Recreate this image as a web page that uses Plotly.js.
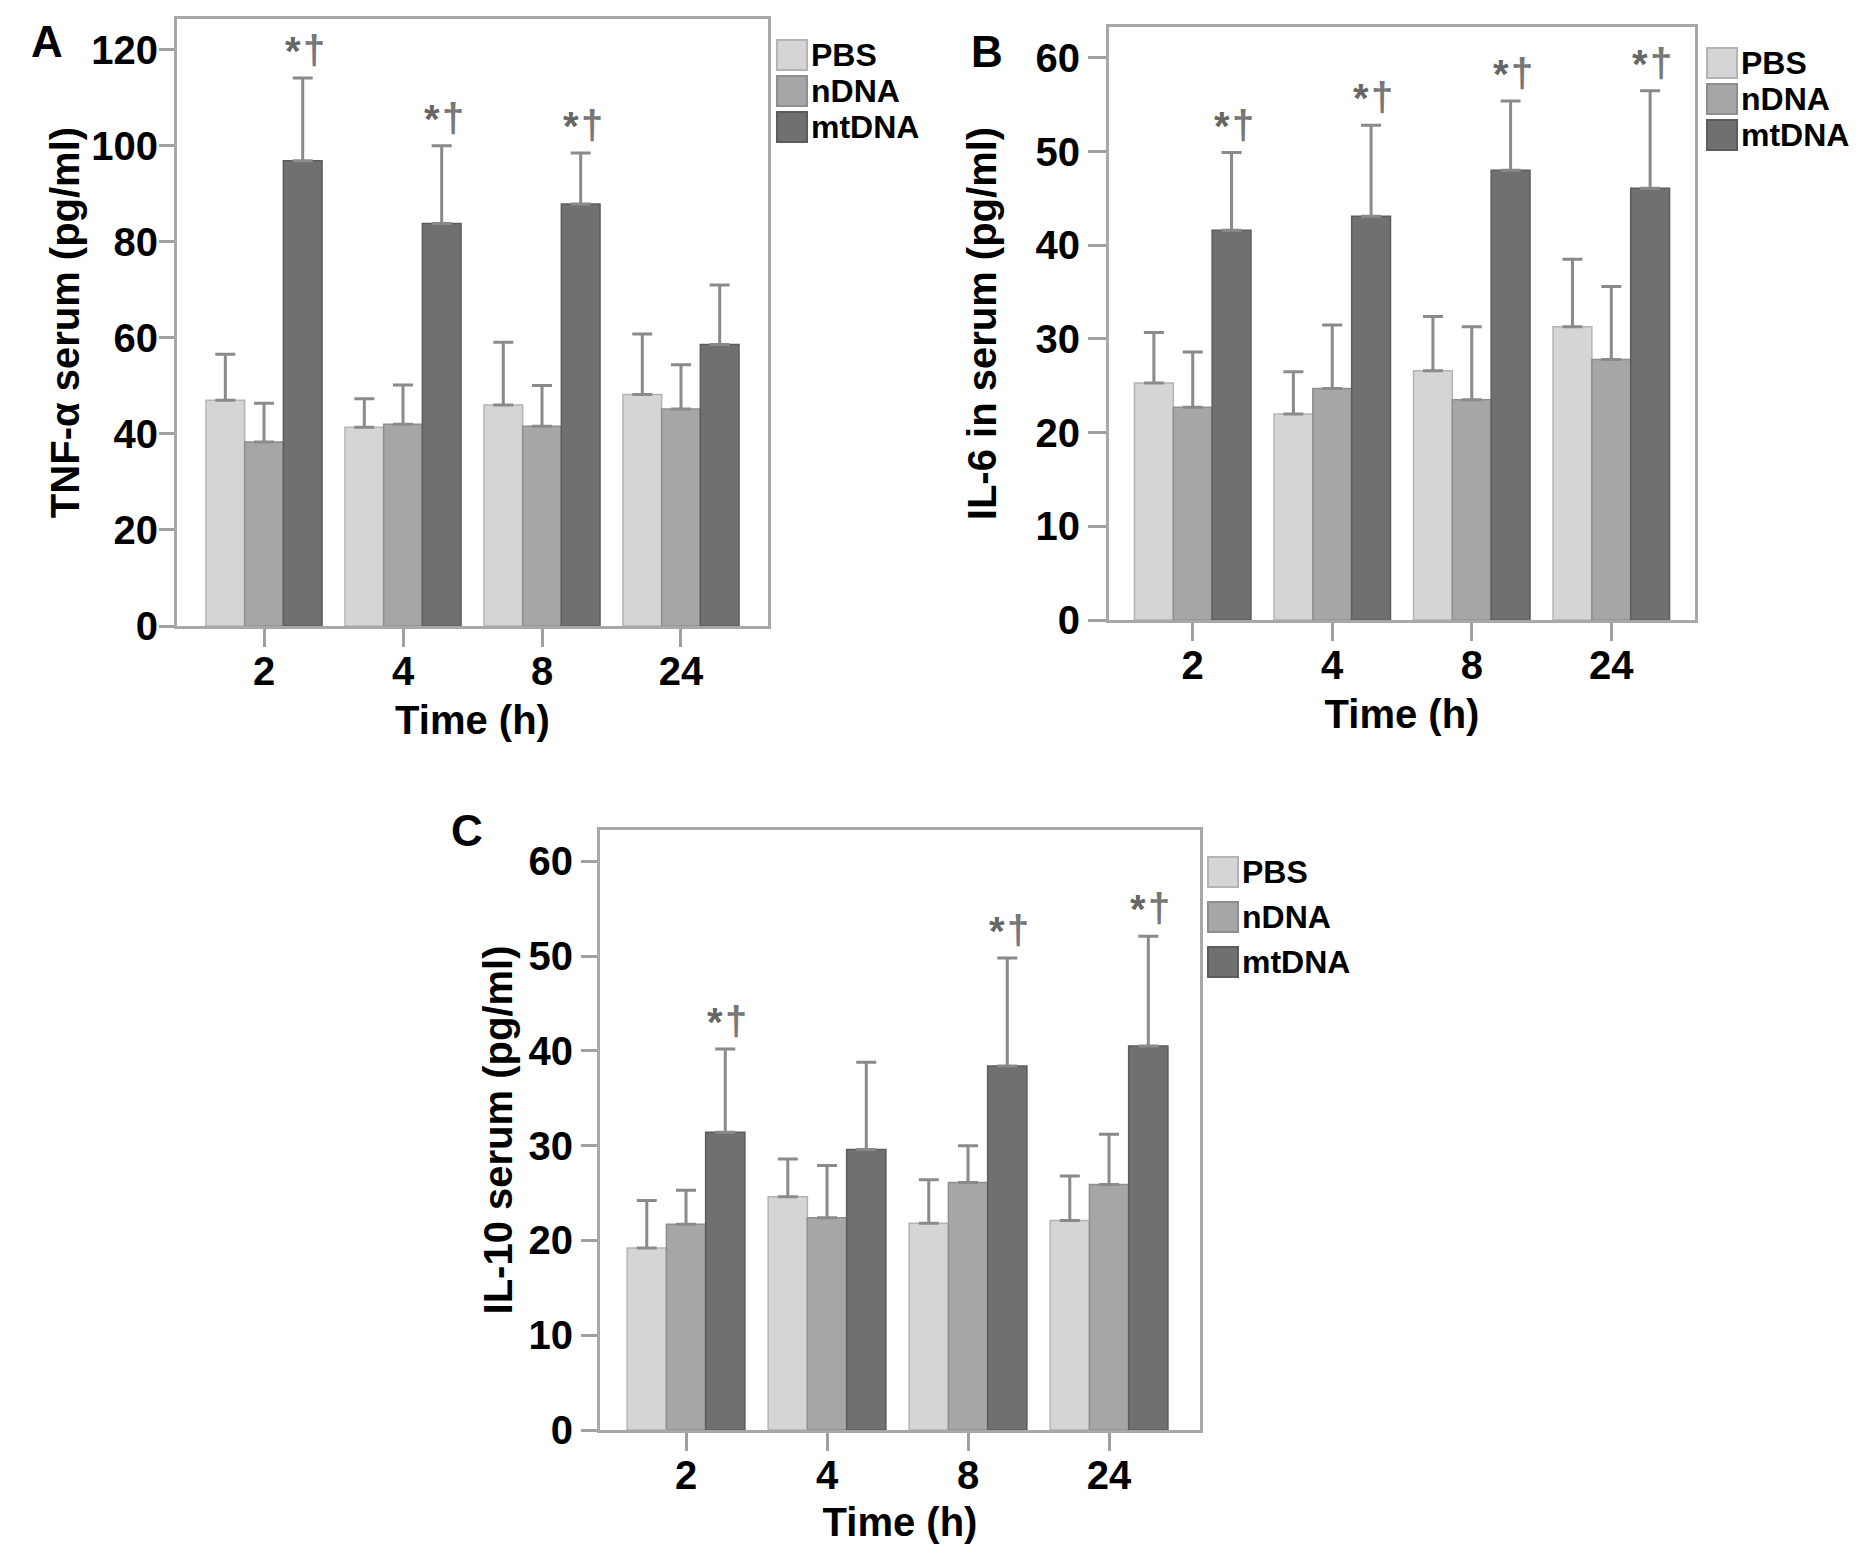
<!DOCTYPE html>
<html>
<head>
<meta charset="utf-8">
<script src="https://cdn.plot.ly/plotly-3.0.1.min.js"></script>
<style>
  html, body { margin: 0; padding: 0; background: #fff; }
  #chart { width: 1864px; height: 1561px; }
</style>
</head>
<body>
<div id="chart"></div>
<script>
// time points (h) and treatment groups
const TIMES = ['2', '4', '8', '24'];
const GROUPS = ['PBS', 'nDNA', 'mtDNA'];
const COLORS = ['#d5d5d5', '#a6a6a6', '#707070'];
const EDGES = ['#b4b4b4', '#8e8e8e', '#5c5c5c'];

// A: TNF-α (pg/ml), mean and SD
const TNF_PBS = [47.0, 41.4, 46.0, 48.2];
const TNF_PBS_SD = [9.6, 5.9, 13.1, 12.6];
const TNF_NDNA = [38.3, 42.0, 41.6, 45.2];
const TNF_NDNA_SD = [8.1, 8.2, 8.5, 9.2];
const TNF_MTDNA = [96.9, 83.8, 87.9, 58.6];
const TNF_MTDNA_SD = [17.2, 16.2, 10.6, 12.4];
const TNF_SIG = [true, true, true, false];

// B: IL-6 (pg/ml)
const IL6_PBS = [25.3, 22.0, 26.6, 31.3];
const IL6_PBS_SD = [5.4, 4.5, 5.8, 7.2];
const IL6_NDNA = [22.7, 24.7, 23.5, 27.8];
const IL6_NDNA_SD = [5.9, 6.8, 7.8, 7.8];
const IL6_MTDNA = [41.6, 43.1, 48.0, 46.1];
const IL6_MTDNA_SD = [8.3, 9.7, 7.4, 10.4];
const IL6_SIG = [true, true, true, true];

// C: IL-10 (pg/ml)
const IL10_PBS = [19.2, 24.6, 21.8, 22.1];
const IL10_PBS_SD = [5.0, 4.0, 4.6, 4.7];
const IL10_NDNA = [21.7, 22.4, 26.1, 25.9];
const IL10_NDNA_SD = [3.6, 5.5, 3.9, 5.3];
const IL10_MTDNA = [31.4, 29.6, 38.4, 40.5];
const IL10_MTDNA_SD = [8.8, 9.2, 11.4, 11.6];
const IL10_SIG = [true, false, true, true];

const W = 1864, H = 1561;
const FONT = 'Liberation Sans, Arial, Helvetica, sans-serif';
const BARGAP = 0.165;
const px = (x) => x / W;
const py = (y) => 1 - y / H;

const panels = [
  {
    key: '', letter: 'A', ytitle: 'TNF-α serum (pg/ml)',
    means: [TNF_PBS, TNF_NDNA, TNF_MTDNA], sds: [TNF_PBS_SD, TNF_NDNA_SD, TNF_MTDNA_SD], sig: TNF_SIG,
    box: [177, 768, 19, 626], yrange: [0, 126.4], dtick: 20, xrange: [-0.626, 3.626],
    yticklen: 15, ylabshift: -7, ystand: 0, xstand: 14,
    letterAt: [47, 41], legend: { x: 777, y: 55, dy: 36 },
  },
  {
    key: '2', letter: 'B', ytitle: 'IL-6 in serum (pg/ml)',
    means: [IL6_PBS, IL6_NDNA, IL6_MTDNA], sds: [IL6_PBS_SD, IL6_NDNA_SD, IL6_MTDNA_SD], sig: IL6_SIG,
    box: [1109, 1695, 27, 620], yrange: [0, 63.3], dtick: 10, xrange: [-0.6, 3.6],
    yticklen: 18, ylabshift: 0, ystand: 27, xstand: 14,
    letterAt: [987, 51], legend: { x: 1707, y: 63, dy: 36 },
  },
  {
    key: '3', letter: 'C', ytitle: 'IL-10 serum (pg/ml)',
    means: [IL10_PBS, IL10_NDNA, IL10_MTDNA], sds: [IL10_PBS_SD, IL10_NDNA_SD, IL10_MTDNA_SD], sig: IL10_SIG,
    box: [600, 1200, 830, 1430], yrange: [0, 63.3], dtick: 10, xrange: [-0.61, 3.645],
    yticklen: 16, ylabshift: 0, ystand: 4, xstand: 12,
    letterAt: [467, 830], legend: { x: 1208, y: 872, dy: 45 },
  },
];

const traces = [];
const annotations = [];
const shapes = [];
const layout = {
  width: W, height: H,
  margin: { l: 0, r: 0, t: 0, b: 0 },
  paper_bgcolor: '#fff', plot_bgcolor: '#fff',
  barmode: 'group', bargap: BARGAP, bargroupgap: 0,
  showlegend: false,
  font: { family: FONT, color: '#000' },
};

const barW = (1 - BARGAP) / GROUPS.length;
const boldFont = (size, color) => ({ family: FONT, size, color: color || '#000', weight: 'bold' });

panels.forEach((p) => {
  const xa = 'x' + p.key, ya = 'y' + p.key;
  const [l, r, t, b] = p.box;

  GROUPS.forEach((g, gi) => {
    traces.push({
      type: 'bar',
      name: g,
      x: TIMES,
      y: p.means[gi],
      xaxis: xa, yaxis: ya,
      marker: { color: COLORS[gi], line: { color: EDGES[gi], width: 1.5 } },
      error_y: {
        type: 'data', symmetric: false,
        array: p.sds[gi], arrayminus: p.sds[gi].map(() => 0),
        color: '#8a8a8a', thickness: 3, width: 10,
      },
      hoverinfo: 'skip',
    });
  });

  // significance marks (* vs PBS, † vs nDNA) over the mtDNA bars
  const mt = p.means[2], mtsd = p.sds[2];
  p.sig.forEach((s, i) => {
    if (!s) return;
    const base = { xref: xa, yref: ya, x: i + barW, y: mt[i] + mtsd[i], yanchor: 'middle', showarrow: false };
    annotations.push({ ...base, text: '*', xshift: -10, yshift: 27, font: boldFont(40, '#666') });
    annotations.push({ ...base, text: '†', xshift: 11, yshift: 28, font: boldFont(40, '#777') });
  });

  const axBase = {
    showgrid: false, zeroline: false,
    showline: true, mirror: true, linecolor: '#a8a8a8', linewidth: 3,
    ticks: 'outside', tickcolor: '#a0a0a0', tickwidth: 3,
    tickfont: boldFont(40),
    fixedrange: true,
  };
  layout['xaxis' + p.key] = {
    ...axBase,
    anchor: ya,
    type: 'category', categoryarray: TIMES,
    domain: [px(l), px(r)], range: p.xrange,
    ticklen: 18, ticklabelstandoff: -10,
    title: { text: 'Time (h)', standoff: p.xstand, font: boldFont(40) },
  };
  layout['yaxis' + p.key] = {
    ...axBase,
    anchor: xa,
    domain: [py(b), py(t)], range: p.yrange, dtick: p.dtick,
    ticklen: p.yticklen, ticklabelstandoff: p.ylabshift,
    title: { text: p.ytitle, standoff: p.ystand, font: boldFont(40) },
  };

  annotations.push({
    xref: 'paper', yref: 'paper', x: px(p.letterAt[0]), y: py(p.letterAt[1]),
    xanchor: 'center', yanchor: 'middle', showarrow: false,
    text: p.letter, font: boldFont(44),
  });

  // hand-drawn legend: square swatch + label per group
  GROUPS.forEach((g, gi) => {
    const cy = p.legend.y + gi * p.legend.dy;
    shapes.push({
      type: 'rect', xref: 'paper', yref: 'paper',
      x0: px(p.legend.x), x1: px(p.legend.x + 30),
      y0: py(cy + 15), y1: py(cy - 15),
      fillcolor: COLORS[gi], line: { color: EDGES[gi], width: 2 },
    });
    annotations.push({
      xref: 'paper', yref: 'paper', x: px(p.legend.x + 32), y: py(cy),
      xanchor: 'left', yanchor: 'middle', showarrow: false,
      text: g, font: boldFont(32),
    });
  });
});

layout.annotations = annotations;
layout.shapes = shapes;

Plotly.newPlot('chart', traces, layout, { displayModeBar: false, staticPlot: true });
</script>
</body>
</html>
